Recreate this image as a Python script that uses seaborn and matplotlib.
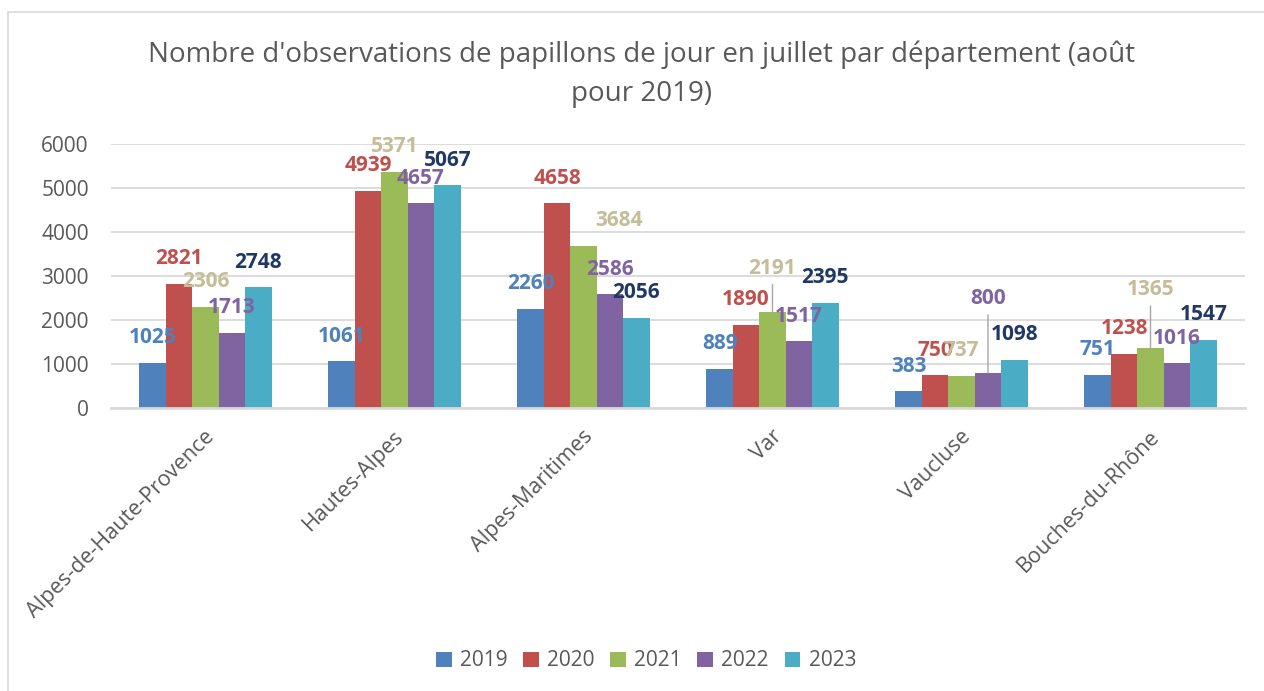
import pandas as pd
import seaborn as sns
import matplotlib.pyplot as plt
from matplotlib.patches import Rectangle
from matplotlib.transforms import ScaledTranslation

departements = [
    "Alpes-de-Haute-Provence",
    "Hautes-Alpes",
    "Alpes-Maritimes",
    "Var",
    "Vaucluse",
    "Bouches-du-Rhône",
]
annees = ["2019", "2020", "2021", "2022", "2023"]

obs_2019 = [1025, 1061, 2260, 889, 383, 751]
obs_2020 = [2821, 4939, 4658, 1890, 750, 1238]
obs_2021 = [2306, 5371, 3684, 2191, 737, 1365]
obs_2022 = [1713, 4657, 2586, 1517, 800, 1016]
obs_2023 = [2748, 5067, 2056, 2395, 1098, 1547]

couleurs_barres = ["#4F81BD", "#C0504D", "#9BBB59", "#8064A2", "#4BACC6"]
couleurs_etiquettes = ["#4F81BD", "#C0504D", "#C4BD97", "#8064A2", "#1F3864"]

titre = "Nombre d'observations de papillons de jour en juillet par département (août\npour 2019)"

# labels that Excel moved away from the default spot (pixels)
decalages = {
    ("Alpes-Maritimes", "2021"): (35, 25),
    ("Var", "2021"): (0, 43),
    ("Vaucluse", "2022"): (0, 74),
    ("Bouches-du-Rhône", "2021"): (0, 58),
}

series = [obs_2019, obs_2020, obs_2021, obs_2022, obs_2023]
dados = pd.DataFrame(
    [
        {"departement": d, "annee": a, "valeur": v}
        for a, vals in zip(annees, series)
        for d, v in zip(departements, vals)
    ]
)

gris = "#595959"
plt.rcParams["font.family"] = ["Open Sans", "DejaVu Sans"]

fig = plt.figure(figsize=(12.64, 6.91), dpi=100)
ax = fig.add_axes([111 / 1264, 1 - 408 / 691, (1245 - 111) / 1264, 264 / 691])

sns.barplot(
    data=dados,
    x="departement",
    y="valeur",
    hue="annee",
    hue_order=annees,
    order=departements,
    palette=couleurs_barres,
    width=0.7,
    gap=0,
    saturation=1,
    ax=ax,
)

ax.set_ylim(0, 6000)
ax.set_xlim(-0.5, len(departements) - 0.5)
ax.set_yticks(range(0, 6001, 1000))
ax.yaxis.grid(True, color="#D9D9D9", lw=1.3)
ax.set_axisbelow(True)
for s in ["left", "right", "top"]:
    ax.spines[s].set_visible(False)
ax.spines["bottom"].set_color("#D9D9D9")
ax.spines["bottom"].set_linewidth(2)
ax.set_xlabel("")
ax.set_ylabel("")
ax.tick_params(axis="y", length=0, pad=16, labelsize=15, labelcolor=gris)
ax.tick_params(axis="x", length=0, pad=12, labelsize=15.5, labelcolor=gris)
decale = ScaledTranslation(6 / 100, -9 / 100, fig.dpi_scale_trans)
for lab in ax.get_xticklabels():
    lab.set_rotation(45)
    lab.set_ha("right")
    lab.set_va("center")
    lab.set_rotation_mode("anchor")
    lab.set_transform(lab.get_transform() + decale)

# data labels
for annee, conteneur, couleur in zip(annees, ax.containers, couleurs_etiquettes):
    for dep, barre in zip(departements, conteneur):
        x = barre.get_x() + barre.get_width() / 2
        h = barre.get_height()
        dx, dy = decalages.get((dep, annee), (0, 25))
        fleche = None
        if dy > 30:
            fleche = dict(arrowstyle="-", color="#A6A6A6", lw=1, shrinkA=2, shrinkB=0)
        ax.annotate(
            f"{int(h)}",
            xy=(x, h),
            xytext=(dx, dy),
            textcoords="offset pixels",
            ha="center",
            va="center",
            fontsize=15,
            fontweight="bold",
            color=couleur,
            arrowprops=fleche,
        )

handles, labels = ax.get_legend_handles_labels()
ax.legend_.remove()
fig.legend(
    handles,
    labels,
    loc="center",
    bbox_to_anchor=(646 / 1264, 1 - 661 / 691),
    ncol=5,
    frameon=False,
    fontsize=15,
    labelcolor=gris,
    handlelength=0.75,
    handleheight=0.75,
    handletextpad=0.4,
    columnspacing=0.75,
)

fig.text(642 / 1264, 1 - 74 / 691, titre, ha="center", va="center",
         fontsize=20, color=gris, linespacing=1.5)

fig.patches.append(Rectangle((8 / 1264, -0.01), 1.02, 1 - 12 / 691 + 0.01,
                             transform=fig.transFigure, fill=False,
                             edgecolor="#D9D9D9", lw=1.2))

fig.savefig("out.png", dpi=100)
